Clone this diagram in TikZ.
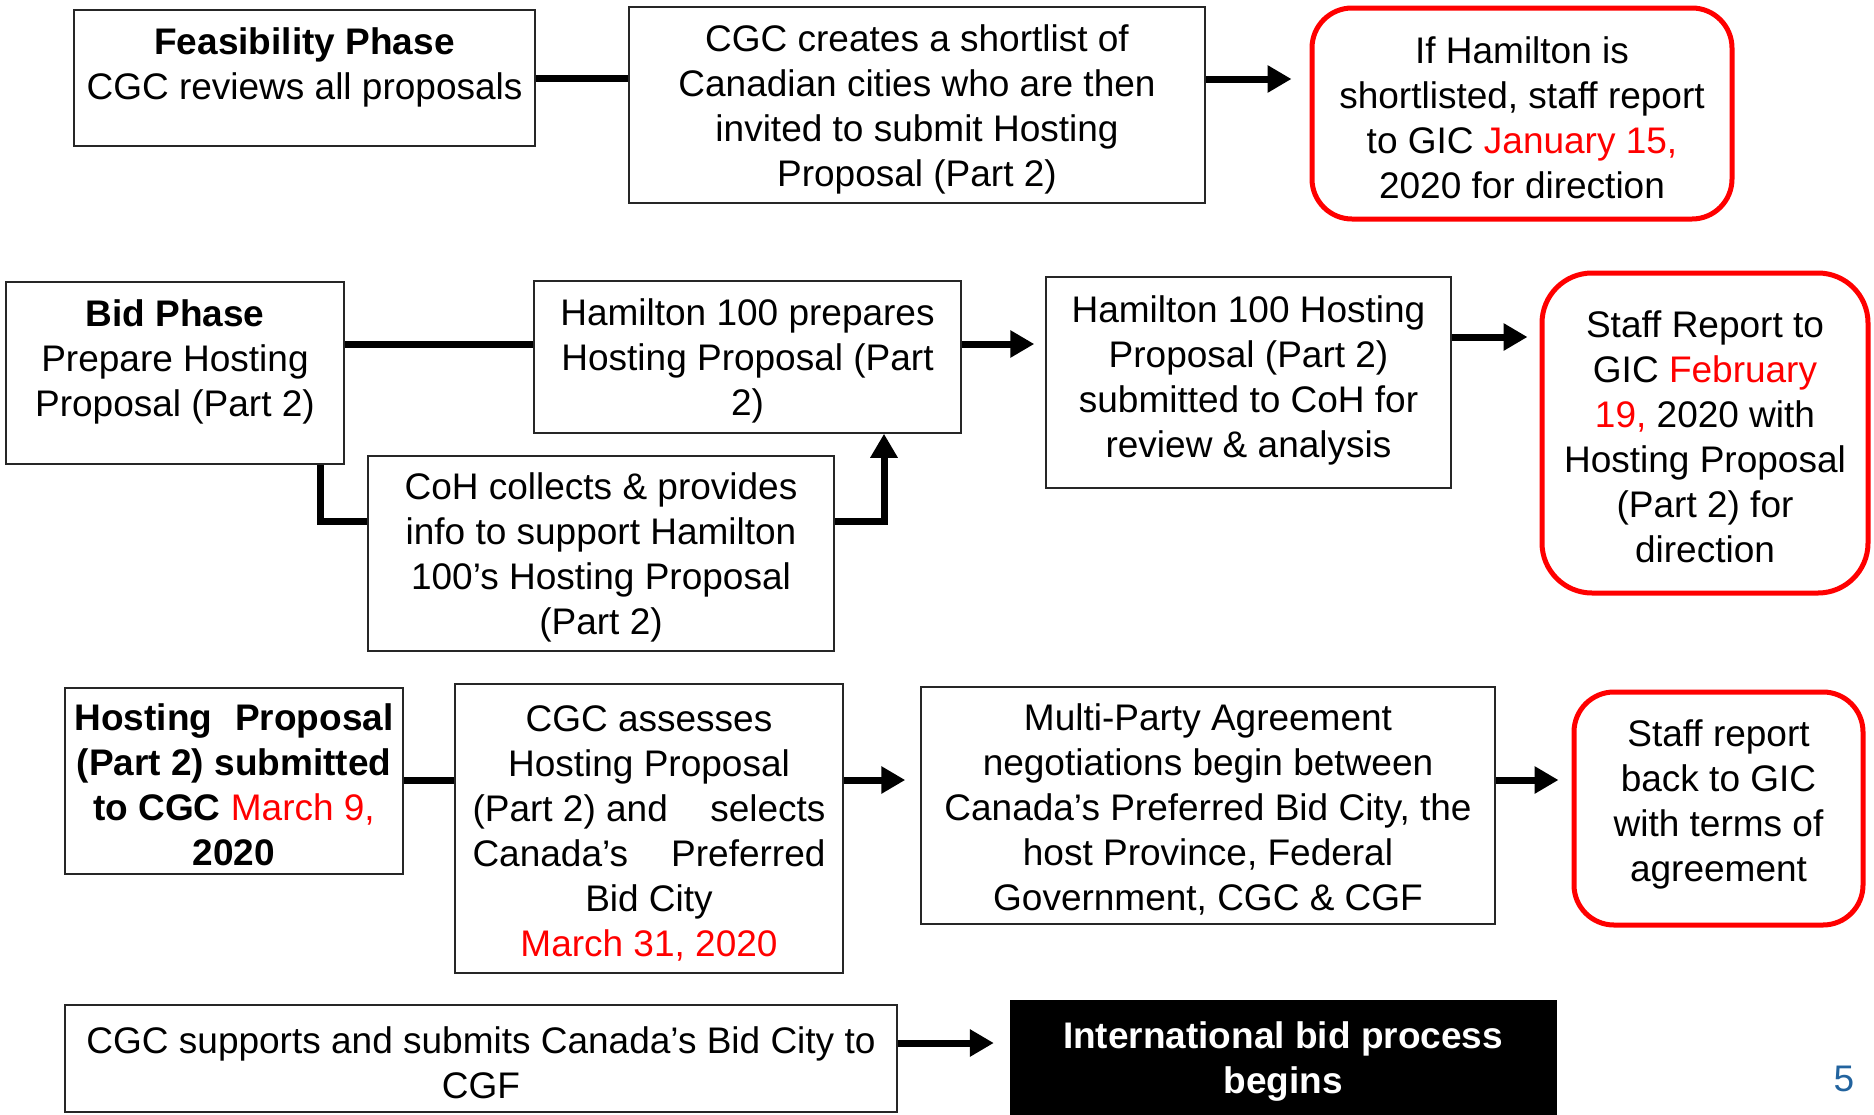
\documentclass[tikz,border=0pt]{standalone}
\usepackage{fontspec}
\setmainfont{Liberation Sans}
\usetikzlibrary{arrows.meta}
\definecolor{pagenum}{HTML}{22639E}
\newcommand\tpf{\mbox{}\\[-10pt]}
\begin{document}
\begin{tikzpicture}[x=1pt,y=-1pt,
  font=\fontsize{37}{45}\selectfont,
  box/.style={draw=black!85, line width=1.5pt, align=center, inner sep=0pt},
  redbox/.style={draw=red, line width=5pt, rounded corners=40pt, align=center, inner sep=0pt},
  blackbox/.style={fill=black, draw=black, align=center, inner sep=0pt, text=white, font=\fontsize{37}{45}\selectfont\bfseries},
  conn/.style={line width=7pt, draw=black},
  arr/.style={conn, -{Triangle[length=24pt,width=26pt]}}]
\useasboundingbox (0,0) rectangle (1874,1114);
% Row 1
\node[box, minimum width=461, minimum height=136] (feas) at (304.5,78)
  {\tpf\textbf{Feasibility Phase}\\CGC reviews all proposals\\[-8pt]\mbox{}};
\node[box, minimum width=576, minimum height=196] (cgc) at (917,105)
  {\tpf CGC creates a shortlist of\\Canadian cities who are then\\invited to submit Hosting\\Proposal (Part 2)};
\node[redbox, minimum width=420, minimum height=211] (red1) at (1522,113.5)
  {\tpf If Hamilton is\\shortlisted, staff report\\to GIC \textcolor{red}{January 15,}\\2020 for direction};
% Row 2
\node[box, minimum width=338, minimum height=182] (bid) at (175,373)
  {\tpf\textbf{Bid Phase}\\Prepare Hosting\\Proposal (Part 2)\\[-7pt]\mbox{}};
\node[box, minimum width=427, minimum height=152] (hprep) at (747.5,357)
  {\tpf Hamilton 100 prepares\\Hosting Proposal (Part\\2)};
\node[box, minimum width=405, minimum height=211] (h100) at (1248.5,382.5)
  {\tpf Hamilton 100 Hosting\\Proposal (Part 2)\\submitted to CoH for\\review \& analysis\\[-25pt]\mbox{}};
\node[redbox, minimum width=326, minimum height=320, rounded corners=50pt] (red2) at (1705,433)
  {\tpf Staff Report to\\GIC \textcolor{red}{February}\\\textcolor{red}{19,} 2020 with\\Hosting Proposal\\(Part 2) for\\direction};
\node[box, minimum width=466, minimum height=195] (coh) at (601,553.5)
  {\tpf CoH collects \& provides\\info to support Hamilton\\100’s Hosting Proposal\\(Part 2)};
% Row 3
\node[box, minimum width=338, minimum height=186, font=\fontsize{37}{45}\selectfont\bfseries] (hsub) at (234,781)
  {\tpf\makebox[319pt]{Hosting\hfill Proposal}\\(Part 2) submitted\\to CGC \textcolor{red}{\mdseries March 9,}\\2020};
\node[box, minimum width=388, minimum height=289] (cgca) at (649,828.5)
  {\tpf CGC assesses\\Hosting Proposal\\\makebox[353pt]{(Part 2) and\hfill selects}\\\makebox[353pt]{Canada’s\hfill Preferred}\\Bid City\\\textcolor{red}{March 31, 2020}};
\node[box, minimum width=574, minimum height=237] (multi) at (1208,805.5)
  {\tpf Multi-Party Agreement\\negotiations begin between\\Canada’s Preferred Bid City, the\\host Province, Federal\\Government, CGC \& CGF};
\node[redbox, minimum width=289, minimum height=233] (red3) at (1718.5,808.5)
  {\tpf Staff report\\back to GIC\\with terms of\\agreement\\[-20pt]\mbox{}};
% Row 4
\node[box, minimum width=832, minimum height=107] (sup) at (481,1058.5)
  {\tpf CGC supports and submits Canada’s Bid City to\\CGF};
\node[blackbox, minimum width=546, minimum height=114] (intl) at (1283,1057)
  {\tpf International bid process\\begins};
\node[text=pagenum, inner sep=0pt] (pnum) at (1844,1079) {5};
% Connectors
\coordinate (r1) at (0,78);
\coordinate (r1a) at (0,79);
\coordinate (r2) at (0,344);
\coordinate (r2b) at (0,337);
\coordinate (r2c) at (0,521);
\coordinate (r3) at (0,780);
\coordinate (r4) at (0,1043);
\coordinate (xl) at (320,0);
\coordinate (xr) at (884,0);
\draw[conn] (feas.east |- r1) -- (cgc.west |- r1);
\draw[arr, shorten >=18pt] (cgc.east |- r1a) -- (red1.west |- r1a);
\draw[conn] (bid.east |- r2) -- (hprep.west |- r2);
\draw[arr, shorten >=11pt] (hprep.east |- r2) -- (h100.west |- r2);
\draw[arr, shorten >=12pt] (h100.east |- r2b) -- (red2.west |- r2b);
\draw[conn] (bid.south -| xl) |- (coh.west |- r2c);
\draw[arr] (coh.east |- r2c) -| (hprep.south -| xr);
\draw[conn] (hsub.east |- r3) -- (cgca.west |- r3);
\draw[arr, shorten >=15pt] (cgca.east |- r3) -- (multi.west |- r3);
\draw[arr, shorten >=13pt] (multi.east |- r3) -- (red3.west |- r3);
\draw[arr, shorten >=16pt] (sup.east |- r4) -- (intl.west |- r4);
\end{tikzpicture}
\end{document}
